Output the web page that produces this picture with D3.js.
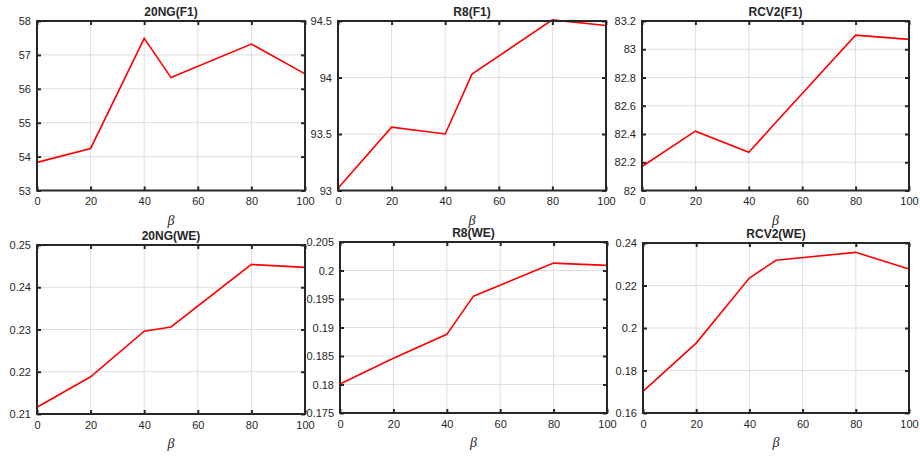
<!DOCTYPE html>
<html>
<head>
<meta charset="utf-8">
<script src="https://cdn.jsdelivr.net/npm/d3@7"></script>
<style>
  body { margin: 0; background: #fff; }
  svg { display: block; }
  text { font-family: Arial, "Liberation Sans", Helvetica, sans-serif; fill: #262626; }
</style>
</head>
<body>
<svg id="vis-svg" width="920" height="456"></svg>
<script>
// beta values shared by every panel
var betas = [0, 20, 40, 50, 80, 100];
var xTicks = [0, 20, 40, 60, 80, 100];

// series
var ng20F1 = [53.83, 54.24, 57.49, 56.33, 57.32, 56.44];
var r8F1 = [93.02, 93.56, 93.50, 94.03, 94.51, 94.46];
var rcv2F1 = [82.17, 82.42, 82.27, 82.48, 83.10, 83.07];
var ng20WE = [0.2116, 0.2188, 0.2296, 0.2306, 0.2454, 0.2447];
var r8WE = [0.1801, 0.1846, 0.1888, 0.1955, 0.2013, 0.2009];
var rcv2WE = [0.1702, 0.1929, 0.2235, 0.2319, 0.2356, 0.2278];

// y tick labels per panel
var ng20F1Ticks = [53, 54, 55, 56, 57, 58];
var r8F1Ticks = [93, 93.5, 94, 94.5];
var rcv2F1Ticks = [82, 82.2, 82.4, 82.6, 82.8, 83, 83.2];
var ng20WETicks = [0.21, 0.22, 0.23, 0.24, 0.25];
var r8WETicks = [0.175, 0.18, 0.185, 0.19, 0.195, 0.2, 0.205];
var rcv2WETicks = [0.16, 0.18, 0.2, 0.22, 0.24];

var titles = ["20NG(F1)", "R8(F1)", "RCV2(F1)", "20NG(WE)", "R8(WE)", "RCV2(WE)"];

// panel boxes (left, top, right, bottom) in pixels
var panels = [
  { title: titles[0], vals: ng20F1, ticks: ng20F1Ticks, box: [37, 21, 305, 190.5] },
  { title: titles[1], vals: r8F1, ticks: r8F1Ticks, box: [338, 21, 606, 190.5] },
  { title: titles[2], vals: rcv2F1, ticks: rcv2F1Ticks, box: [642, 21, 909, 190.5] },
  { title: titles[3], vals: ng20WE, ticks: ng20WETicks, box: [37, 245, 305, 414] },
  { title: titles[4], vals: r8WE, ticks: r8WETicks, box: [340, 242, 607, 413] },
  { title: titles[5], vals: rcv2WE, ticks: rcv2WETicks, box: [643, 243, 909, 413] }
];

var svg = d3.select("#vis-svg");
var fmt = function(d) { return String(+d.toFixed(4)); };

panels.forEach(function(p) {
  var x0 = p.box[0], y0 = p.box[1], x1 = p.box[2], y1 = p.box[3];
  var yDom = [p.ticks[0], p.ticks[p.ticks.length - 1]];

  var x = d3.scaleLinear().domain([0, 100]).range([x0, x1]);
  var y = d3.scaleLinear().domain(yDom).range([y1, y0]);

  var g = svg.append("g");

  // grid
  g.selectAll(".gx").data(xTicks.slice(1, -1)).enter().append("line")
      .attr("x1", function(d) { return x(d); })
      .attr("x2", function(d) { return x(d); })
      .attr("y1", y0).attr("y2", y1)
      .attr("stroke", "#dedede").attr("stroke-width", 1);
  g.selectAll(".gy").data(p.ticks.slice(1, -1)).enter().append("line")
      .attr("y1", function(d) { return y(d); })
      .attr("y2", function(d) { return y(d); })
      .attr("x1", x0).attr("x2", x1)
      .attr("stroke", "#dedede").attr("stroke-width", 1);

  // data line
  var line = d3.line()
      .x(function(d, i) { return x(betas[i]); })
      .y(function(d) { return y(d); });
  g.append("path")
      .datum(p.vals)
      .attr("d", line)
      .attr("fill", "none")
      .attr("stroke", "#ff0000")
      .attr("stroke-width", 1.6);

  // axes with inward ticks on all sides
  var axes = [
    d3.axisBottom(x).tickValues(xTicks).tickSizeInner(-4).tickSizeOuter(0).tickPadding(7).tickFormat(fmt),
    d3.axisTop(x).tickValues(xTicks).tickSizeInner(-4).tickSizeOuter(0).tickFormat(""),
    d3.axisLeft(y).tickValues(p.ticks).tickSizeInner(-4).tickSizeOuter(0).tickPadding(6).tickFormat(fmt),
    d3.axisRight(y).tickValues(p.ticks).tickSizeInner(-4).tickSizeOuter(0).tickFormat("")
  ];
  var shifts = [[0, y1], [0, y0], [x0, 0], [x1, 0]];
  axes.forEach(function(ax, i) {
    var a = g.append("g")
        .attr("transform", "translate(" + shifts[i][0] + "," + shifts[i][1] + ")")
        .call(ax);
    a.select(".domain").remove();
    a.selectAll(".tick line").attr("stroke", "#262626").attr("stroke-width", 2);
    a.selectAll(".tick text")
        .style("font-size", "11px")
        .attr("fill", "#262626");
  });

  // box
  g.append("rect")
      .attr("x", x0).attr("y", y0)
      .attr("width", x1 - x0).attr("height", y1 - y0)
      .attr("fill", "none")
      .attr("stroke", "#262626")
      .attr("stroke-width", 2);

  // title
  g.append("text")
      .attr("x", (x0 + x1) / 2)
      .attr("y", y0 - 5)
      .attr("text-anchor", "middle")
      .style("font-size", "12px")
      .style("font-weight", "bold")
      .attr("fill", "#000")
      .text(p.title);

  // x label
  g.append("text")
      .attr("x", (x0 + x1) / 2)
      .attr("y", y1 + 34)
      .attr("text-anchor", "middle")
      .style("font-family", "'Liberation Serif', 'Times New Roman', serif")
      .style("font-style", "italic")
      .style("font-size", "14px")
      .text("β");
});
</script>
</body>
</html>
